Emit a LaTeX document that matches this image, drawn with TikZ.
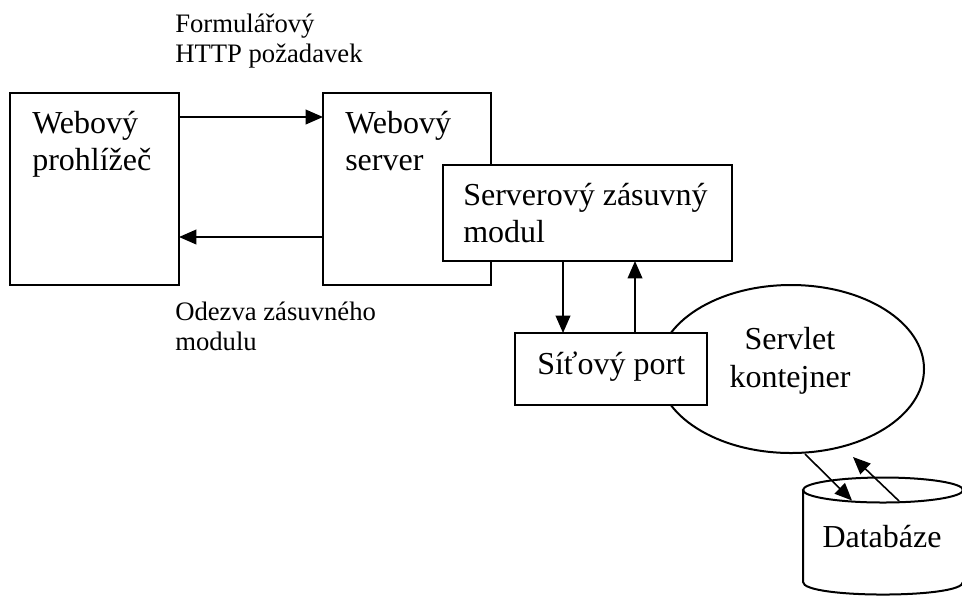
\documentclass[tikz,border=0pt]{standalone}
\usepackage{fontspec}
\setmainfont{Liberation Serif}
\usetikzlibrary{arrows.meta,calc,shapes.geometric}
\begin{document}
\begin{tikzpicture}[x=0.75pt,y=-0.75pt,
  box/.style={draw,line width=1.5pt,fill=white,inner sep=0pt,outer sep=0pt},
  big/.style={font=\fontsize{24pt}{27.75pt}\selectfont,inner sep=0pt,align=left,anchor=base west},
  bigc/.style={font=\fontsize{24pt}{28.5pt}\selectfont,inner sep=0pt,align=center,anchor=base},
  small/.style={font=\fontsize{20pt}{22.5pt}\selectfont,inner sep=0pt,align=left,anchor=base west},
  arr/.style={line width=1.2pt,-{Triangle[length=13pt,width=11pt]}}]
\useasboundingbox (0,0) rectangle (962,597);
\clip (0,0) rectangle (962,597);
\fill[white] (0,0) rectangle (962,597);
% boxes
\node[box,minimum width=126.75pt,minimum height=144pt] (browser) at (94.5,189) {};
\node[box,minimum width=126pt,minimum height=144pt] (server) at (407,189) {};
\node[box,ellipse,minimum width=199.5pt,minimum height=126pt] (cont) at (791,369) {};
\node[box,minimum width=216.75pt,minimum height=72pt] (module) at (587.5,213) {};
\node[box,minimum width=144pt,minimum height=54pt] (port) at (611,369) {};
% database cylinder
\node[inner sep=0pt,outer sep=0pt,minimum width=120pt,minimum height=87.75pt] (db) at (883,536) {};
\draw[line width=1.5pt,fill=white] (803,490) -- (803,582) .. controls (803,598.7) and (963,598.7) .. (963,582) -- (963,490);
\draw[line width=1.5pt] (883,490) ellipse [x radius=80, y radius=12.5];
% texts (base anchor = baseline of last line)
\node[big] (tbrowser) at (32,170) {Webový\\prohlížeč};
\node[big] (tserver) at (345,170) {Webový\\server};
\node[big] (tmodule) at (463,242) {Serverový zásuvný\\modul};
\node[big] (tport) at (537,374) {Síťový port};
\node[bigc] (tcont) at (790,387) {Servlet\\kontejner};
\node[bigc] (tdb) at (882,547) {Databáze};
\node[small] (lreq) at (175,62) {Formulářový\\HTTP požadavek};
\node[small] (lresp) at (175,350) {Odezva zásuvného\\modulu};
% connectors
\draw[arr] ($(browser.north east)+(0,24)$) -- ($(server.north west)+(0,24)$);
\draw[arr] ($(server.south west)+(0,-48)$) -- ($(browser.south east)+(0,-48)$);
\draw[arr] ($(module.south west)+(120,0)$) -- ($(port.north west)+(48,0)$);
\draw[arr] ($(port.north west)+(120,0)$) -- ($(module.south west)+(192,0)$);
\draw[arr] ($(cont.south)+(14,1)$) -- ($(db.north west)+(49,23)$);
\draw[arr] ($(db.north west)+(96,23.5)$) -- ($(cont.south)+(62,4)$);
\end{tikzpicture}
\end{document}
